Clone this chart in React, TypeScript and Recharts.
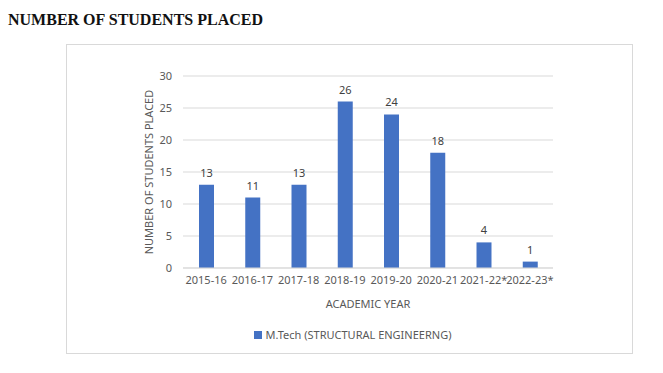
import { Bar, BarChart, CartesianGrid, LabelList, Legend, XAxis, YAxis } from "recharts";

const years = ["2015-16", "2016-17", "2017-18", "2018-19", "2019-20", "2020-21", "2021-22*", "2022-23*"];
const placed = [13, 11, 13, 26, 24, 18, 4, 1];
const yTicks = [0, 5, 10, 15, 20, 25, 30];

const seriesName = "M.Tech (STRUCTURAL ENGINEERNG)";

const data = years.map((year, i) => ({ year, placed: placed[i] }));

const font = "'Noto Sans', sans-serif";
const grey = "#595959";

export default function App() {
	return (
		<div style={{ position: "absolute", left: 0, top: 0, width: 663, height: 373, background: "#fff" }}>
			<div
				style={{
					position: "absolute",
					left: 8,
					top: 11,
					fontFamily: "'Liberation Serif', serif",
					fontWeight: "bold",
					fontSize: 16,
					color: "#111",
				}}
			>
				NUMBER OF STUDENTS PLACED
			</div>
			<div
				style={{
					position: "absolute",
					left: 66,
					top: 44,
					width: 567,
					height: 310,
					border: "1px solid #d9d9d9",
					boxSizing: "border-box",
				}}
			>
				<BarChart
					width={565}
					height={308}
					data={data}
					margin={{ top: 31, right: 79, left: 0, bottom: 45 }}
					style={{ fontFamily: font }}
				>
					<CartesianGrid vertical={false} stroke="#d9d9d9" />
					<XAxis
						dataKey="year"
						height={40}
						tickLine={false}
						axisLine={{ stroke: "#d9d9d9" }}
						interval={0}
						tick={{ fill: grey, fontSize: 11 }}
						label={{ value: "ACADEMIC YEAR", position: "insideBottom", offset: 0, fill: grey, fontSize: 11 }}
					/>
					<YAxis
						width={116}
						domain={[0, 30]}
						ticks={yTicks}
						tickLine={false}
						axisLine={false}
						tickMargin={5}
						tick={{ fill: grey, fontSize: 11 }}
						label={{ value: "NUMBER OF STUDENTS PLACED", angle: -90, position: "center", dx: 24, fill: grey, fontSize: 11 }}
					/>
					<Legend
						verticalAlign="middle"
						iconType="square"
						iconSize={8}
						wrapperStyle={{ top: 277, left: 8, width: 565 }}
						formatter={(value) => <span style={{ color: grey, fontSize: 11 }}>{value}</span>}
					/>
					<Bar dataKey="placed" name={seriesName} fill="#4472c4" barSize={15} isAnimationActive={false}>
						<LabelList dataKey="placed" position="top" offset={8} fill="#404040" fontSize={11} />
					</Bar>
				</BarChart>
			</div>
		</div>
	);
}
